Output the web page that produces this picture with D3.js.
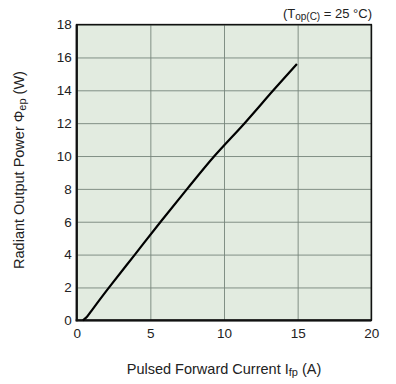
<!DOCTYPE html>
<html><head><meta charset="utf-8">
<script src="https://cdn.jsdelivr.net/npm/d3@7"></script>
<style>
html,body{margin:0;padding:0;background:#fff;}
svg{display:block;font-family:"Liberation Sans",Arial,sans-serif;}
</style></head>
<body>
<svg id="c" width="396" height="384"></svg>
<script>
const currentA = [0.42, 0.7, 1.1, 2.2, 3.95, 5.7, 7.5, 9.35, 11.4, 13.35, 14.95];
const powerW   = [0, 0.22, 0.7, 2, 4, 6, 8, 10, 12, 14, 15.6];
const xTicks = [0, 5, 10, 15, 20];
const yTicks = [0, 2, 4, 6, 8, 10, 12, 14, 16, 18];

const svg = d3.select("#c");
const x = d3.scaleLinear().domain([0, 20]).range([76.7, 371.3]);
const y = d3.scaleLinear().domain([0, 18]).range([320.3, 24.6]);

svg.append("rect").attr("x", x(0)).attr("y", y(18))
  .attr("width", x(20)-x(0)).attr("height", y(0)-y(18)).attr("fill", "#e2ebe0");

const gx = svg.append("g").attr("transform", `translate(0,${y(0)})`)
  .call(d3.axisBottom(x).tickValues(xTicks).tickSize(-(y(0)-y(18))).tickPadding(8));
gx.select(".domain").remove();
gx.selectAll(".tick line").attr("stroke", "#76857a").attr("stroke-width", 0.9);
gx.selectAll(".tick text").attr("font-size", 13.5).attr("fill", "#222").attr("font-family", "Liberation Sans, Arial, sans-serif");

const gy = svg.append("g").attr("transform", `translate(${x(0)},0)`)
  .call(d3.axisLeft(y).tickValues(yTicks).tickSize(-(x(20)-x(0))).tickPadding(5));
gy.select(".domain").remove();
gy.selectAll(".tick line").attr("stroke", "#76857a").attr("stroke-width", 0.9);
gy.selectAll(".tick text").attr("font-size", 13.5).attr("fill", "#222").attr("font-family", "Liberation Sans, Arial, sans-serif");

// frame
svg.append("rect").attr("x", x(0)).attr("y", y(18))
  .attr("width", x(20)-x(0)).attr("height", y(0)-y(18))
  .attr("fill", "none").attr("stroke", "#111").attr("stroke-width", 1.5);
svg.append("line").attr("x1", x(0)).attr("x2", x(0)).attr("y1", y(18)).attr("y2", y(0)+1)
  .attr("stroke", "#111").attr("stroke-width", 2.2);
svg.append("line").attr("x1", x(0)-1).attr("x2", x(20)).attr("y1", y(0)).attr("y2", y(0))
  .attr("stroke", "#111").attr("stroke-width", 2.2);

const line = d3.line().x((d,i)=>x(currentA[i])).y((d,i)=>y(powerW[i])).curve(d3.curveCatmullRom.alpha(0.5));
svg.append("path").datum(powerW).attr("d", line)
  .attr("fill", "none").attr("stroke", "#000").attr("stroke-width", 2.2);

// annotation
const ann = svg.append("text").attr("x", 372).attr("y", 18).attr("text-anchor", "end")
  .attr("font-size", 13).attr("fill", "#222");
ann.append("tspan").text("(T");
ann.append("tspan").attr("font-size", 10).attr("dy", 2).text("op(C)");
ann.append("tspan").attr("dy", -2).text(" = 25 °C)");

// x title
const xt = svg.append("text").attr("x", 224).attr("y", 374).attr("text-anchor", "middle")
  .attr("font-size", 14.5).attr("fill", "#222");
xt.append("tspan").text("Pulsed Forward Current I");
xt.append("tspan").attr("font-size", 11).attr("dy", 2).text("fp");
xt.append("tspan").attr("dy", -2).text(" (A)");

// y title
const yt = svg.append("text").attr("transform", "translate(24,170) rotate(-90)")
  .attr("text-anchor", "middle").attr("font-size", 14.5).attr("fill", "#222");
yt.append("tspan").text("Radiant Output Power Φ");
yt.append("tspan").attr("font-size", 11).attr("dy", 2).text("ep");
yt.append("tspan").attr("dy", -2).text(" (W)");
</script>
</body></html>
